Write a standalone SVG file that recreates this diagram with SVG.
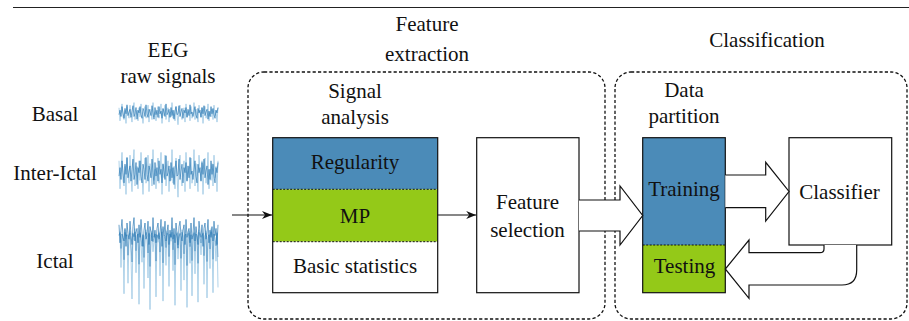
<svg xmlns="http://www.w3.org/2000/svg" width="909" height="321" viewBox="0 0 909 321">
<style>
text{font-size:21px;fill:#111;text-anchor:middle}
.grp{fill:none;stroke:#111;stroke-width:1.3;stroke-dasharray:3.2 2.2}
.box{stroke:#111;stroke-width:1.2}
.div{stroke:#111;stroke-width:1;stroke-dasharray:2 1.5;fill:none}
.big{fill:#fff;stroke:#111;stroke-width:1.2;stroke-linejoin:miter}
.thin{stroke:#111;stroke-width:1.1;fill:none}
.sig{fill:none;vector-effect:non-scaling-stroke;stroke-linejoin:round}
.lt{stroke:#a6cde6;stroke-width:0.9}
.dk{stroke:#2a78b4;stroke-width:0.8;stroke-opacity:0.85}
</style>
<defs>
<marker id="ah" viewBox="0 0 10 8" refX="10" refY="4" markerWidth="10" markerHeight="8" markerUnits="userSpaceOnUse" orient="auto">
<path d="M0,0 L10,4 L0,8 L3,4 z" fill="#111"/>
</marker>
<polyline id="sA" class="sig" points="0,3 1,-2 2,5 3,-6 4,1 5,7 6,-4 7,2 8,-8 9,4 10,0 11,-3 12,6 13,-1 14,-7 15,5 16,2 17,-5 18,8 19,-2 20,1 21,-6 22,3 23,7 24,-4 25,-1 26,5 27,-8 28,2 29,6 30,-3 31,0 32,4 33,-7 34,1 35,8 36,-5 37,3 38,-2 39,6 40,-6 41,2 42,-1 43,7 44,-4 45,0 46,5 47,-9 48,3 49,1 50,-3 51,6 52,-5 53,4 54,-2 55,8 56,-1 57,-6 58,3 59,2 60,-7 61,5 62,0 63,-4 64,7 65,-2 66,1 67,-5 68,6 69,-3 70,4 71,-8 72,2 73,0 74,5 75,-1 76,-6 77,3 78,7 79,-4 80,1 81,-2 82,6 83,-5 84,2 85,-7 86,4 87,0 88,-3 89,8 90,-1 91,5 92,-6 93,2 94,-4 95,3 96,7 97,-2 98,1 99,-5"/>
<polyline id="sB" class="sig" points="0,-4 1,6 2,-1 3,-7 4,3 5,5 6,-2 7,8 8,-5 9,1 10,4 11,-6 12,2 13,7 14,-3 15,-8 16,5 17,0 18,-2 19,6 20,-4 21,3 22,-7 23,1 24,8 25,-1 26,-5 27,4 28,2 29,-6 30,7 31,-3 32,0 33,5 34,-8 35,3 36,-1 37,6 38,-2 39,-5 40,4 41,1 42,-7 43,8 44,-3 45,2 46,-6 47,5 48,0 49,-4 50,7 51,-1 52,3 53,-8 54,4 55,-2 56,6 57,-5 58,1 59,9 60,-3 61,-6 62,2 63,5 64,-1 65,-4 66,7 67,-7 68,3 69,0 70,-2 71,6 72,-5 73,4 74,1 75,-8 76,5 77,-3 78,2 79,7 80,-6 81,0 82,3 83,-4 84,8 85,-2 86,-5 87,4 88,1 89,-7 90,6 91,-1 92,3 93,-3 94,5 95,-6 96,2 97,-2 98,7 99,-4"/>
<polyline id="sC" class="sig" points="0,0 1,-4 2,30 3,-2 4,5 5,55 6,-6 7,3 8,-1 9,45 10,2 11,-5 12,20 13,60 14,-3 15,4 16,-7 17,35 18,1 19,-2 20,65 21,-4 22,6 23,25 24,-1 25,50 26,3 27,-6 28,2 29,40 30,-3 31,70 32,0 33,-5 34,15 35,4 36,-2 37,58 38,-1 39,6 40,-4 41,38 42,2 43,-7 44,62 45,0 46,3 47,28 48,-5 49,1 50,48 51,-2 52,5 53,-6 54,33 55,-1 56,66 57,2 58,-4 59,22 60,4 61,-3 62,52 63,-6 64,1 65,42 66,0 67,-2 68,68 69,3 70,-5 71,26 72,-1 73,57 74,5 75,-4 76,36 77,-2 78,1 79,63 80,-6 81,3 82,18 83,0 84,-3 85,46 86,2 87,-5 88,59 89,4 90,-1 91,31 92,-7 93,2 94,54 95,-2 96,6 97,24 98,-4 99,49"/>
</defs>

<line x1="13" y1="7.5" x2="909" y2="7.5" stroke="#222" stroke-width="1"/>

<g font-family="Liberation Serif, Times New Roman, serif">
<g id="eeg-signals">
<text x="168" y="57">EEG</text>
<text x="168" y="83">raw signals</text>
<g id="basal">
<text x="55" y="121">Basal</text>
<use href="#sB" class="lt" transform="translate(119,113) scale(1,1.3)"/>
<use href="#sA" class="dk" transform="translate(119,112) scale(1,0.9)"/>
</g>
<g id="inter-ictal">
<text x="55" y="180">Inter-Ictal</text>
<use href="#sB" class="lt" transform="translate(119,172) scale(1,2.8)"/>
<use href="#sA" class="dk" transform="translate(119,171) scale(1,1.7)"/>
</g>
<g id="ictal">
<text x="55" y="268">Ictal</text>
<use href="#sC" class="lt" transform="translate(119,236) scale(1,1.05)"/>
<use href="#sB" class="dk" transform="translate(119,232) scale(1,1.8)"/>
<use href="#sC" class="dk" transform="translate(119,235) scale(1,0.45)" style="stroke-opacity:0.6"/>
</g>
</g>

<g id="feature-extraction">
<rect class="grp" x="248" y="72" width="357" height="247" rx="16"/>
<text x="427" y="31">Feature</text>
<text x="427" y="61">extraction</text>
</g>

<g id="classification">
<rect class="grp" x="615" y="72" width="292" height="247" rx="16"/>
<text x="767" y="47">Classification</text>
</g>

<g id="signal-analysis">
<text x="355" y="98">Signal</text>
<text x="355" y="124">analysis</text>
<rect x="272.7" y="137.7" width="165" height="51.6" fill="#4b8bb8"/>
<rect x="272.7" y="189.3" width="165" height="52.4" fill="#94c918"/>
<rect x="272.7" y="241.7" width="165" height="51" fill="#fff"/>
<line class="div" x1="272.7" y1="189.3" x2="437.7" y2="189.3"/>
<line class="div" x1="272.7" y1="241.7" x2="437.7" y2="241.7"/>
<rect class="box" x="272.7" y="137.7" width="165" height="155" fill="none"/>
<text x="355" y="169">Regularity</text>
<text x="355" y="223">MP</text>
<text x="355" y="273">Basic statistics</text>
</g>

<g id="feature-selection">
<rect class="box" x="476.7" y="137.7" width="102.3" height="155" fill="#fff"/>
<text x="527.5" y="209">Feature</text>
<text x="527.5" y="236.5">selection</text>
</g>

<g id="data-partition">
<text x="684" y="97">Data</text>
<text x="684" y="123">partition</text>
<rect x="642.7" y="137.7" width="82.6" height="107.3" fill="#4b8bb8"/>
<rect x="642.7" y="245" width="82.6" height="47.7" fill="#94c918"/>
<line class="div" x1="642.7" y1="245" x2="725.3" y2="245"/>
<rect class="box" x="642.7" y="137.7" width="82.6" height="155" fill="none"/>
<text x="684" y="196">Training</text>
<text x="684.5" y="273">Testing</text>
</g>

<g id="classifier">
<rect class="box" x="789" y="137.7" width="102.7" height="107.3" fill="#fff"/>
<text x="839.5" y="199">Classifier</text>
</g>
</g>

<g id="connectors">
<line class="thin" x1="232" y1="215" x2="272" y2="215" marker-end="url(#ah)"/>
<line class="thin" x1="437.7" y1="215" x2="476.2" y2="215" marker-end="url(#ah)"/>
<path class="big" d="M579,200 H620 V186 L642.7,215.5 L620,245 V231 H579"/>
<path class="big" d="M725.3,175 H765.7 V162.3 L789,191.5 L765.7,221 V207.7 H725.3"/>
<path class="big" d="M824,245 V249 Q824,252.7 820,252.7 H749 V240 L725.3,269 L749,298.3 V285 H842 Q856.7,285 856.7,270 V245"/>
</g>
</svg>
